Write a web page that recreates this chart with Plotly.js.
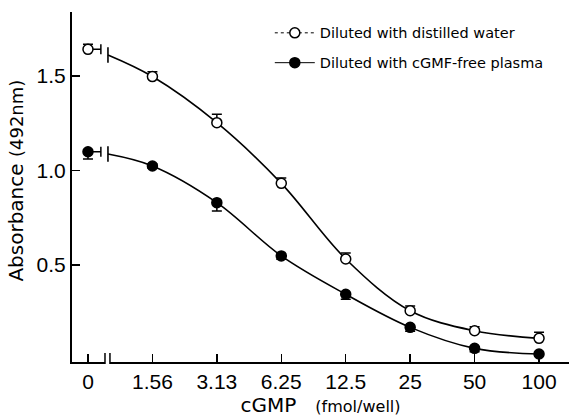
<!DOCTYPE html>
<html><head><meta charset="utf-8">
<script src="https://cdn.plot.ly/plotly-3.0.1.min.js"></script>
<style>html,body{margin:0;padding:0;background:#fff}#chart{width:569px;height:417px}</style>
</head><body><div id="chart"></div>
<script>
// categories on the (ordinal) x axis
const categories = ['0', '1.56', '3.13', '6.25', '12.5', '25', '50', '100'];
const xIndex = [0, 1, 2, 3, 4, 5, 6, 7];
// Diluted with distilled water (open circles)
const waterY = [1.641, 1.497, 1.253, 0.932, 0.532, 0.258, 0.152, 0.112];
const waterErrUp = [0.027, 0.025, 0.045, 0.028, 0.032, 0.025, 0.021, 0.032];
const waterErrDown = [0, 0, 0, 0, 0, 0, 0, 0];
// Diluted with cGMP-free plasma (filled circles)
const plasmaY = [1.099, 1.024, 0.830, 0.548, 0.345, 0.170, 0.059, 0.029];
const plasmaErrUp = [0, 0.010, 0, 0, 0, 0, 0, 0];
const plasmaErrDown = [0.038, 0.012, 0.044, 0.018, 0.026, 0.020, 0.018, 0.010];
// horizontal error bar on the zero-dose point
const zeroXErr = [0.2, 0, 0, 0, 0, 0, 0, 0];
// fitted curves start just after the axis break
const curveStartX = 0.31;
const waterCurveStart = 1.611;
const plasmaCurveStart = 1.087;
// y tick values
const yTicks = [0.5, 1.0, 1.5];
// axis break position (index units)
const breakX = [0.264, 0.341];

const blk = '#000';
const curveX = [curveStartX].concat(xIndex.slice(1));

function pointsTrace(y, up, down, open) {
  return {
    x: xIndex, y: y, type: 'scatter', mode: 'markers', showlegend: false,
    marker: {symbol: 'circle', size: 10, color: open ? '#fff' : blk, line: {color: blk, width: 1.5}},
    error_y: {type: 'data', symmetric: false, array: up, arrayminus: down, color: blk, thickness: 1.5, width: 5},
    error_x: {type: 'data', symmetric: false, array: zeroXErr, arrayminus: xIndex.map(() => 0), color: blk, thickness: 1.5, width: 5},
    hoverinfo: 'skip'
  };
}
function curveTrace(start, y) {
  return {
    x: curveX, y: [start].concat(y.slice(1)), type: 'scatter', mode: 'lines', showlegend: false,
    line: {color: blk, width: 1.6, shape: 'spline', smoothing: 1}, hoverinfo: 'skip'
  };
}
function startTick(start) {
  return {
    x: [curveStartX], y: [start], type: 'scatter', mode: 'markers', showlegend: false,
    marker: {symbol: 'line-ns', size: 11, line: {color: blk, width: 1.6}}, hoverinfo: 'skip'
  };
}
function legendTrace(name, open, dash, grp) {
  return {
    x: [null], y: [null], type: 'scatter', mode: 'lines+markers', name: name, legendgroup: grp,
    line: {color: blk, width: 1, dash: dash},
    marker: {symbol: 'circle', size: 10, color: open ? '#fff' : blk, line: {color: blk, width: 1.5}}
  };
}

const data = [
  curveTrace(waterCurveStart, waterY),
  curveTrace(plasmaCurveStart, plasmaY),
  startTick(waterCurveStart),
  startTick(plasmaCurveStart),
  pointsTrace(waterY, waterErrUp, waterErrDown, true),
  pointsTrace(plasmaY, plasmaErrUp, plasmaErrDown, false),
  legendTrace('Diluted with distilled water', true, 'dot', 'a'),
  legendTrace('Diluted with cGMF-free plasma', false, 'solid', 'b')
];

const layout = {
  width: 569, height: 417,
  margin: {l: 72, r: 0, t: 12, b: 55},
  paper_bgcolor: '#fff', plot_bgcolor: '#fff',
  font: {family: 'DejaVu Sans', color: blk},
  showlegend: true,
  legend: {x: 0.398, y: 0.986, xanchor: 'left', yanchor: 'top',
           font: {family: 'DejaVu Sans', size: 14.5, color: blk},
           bgcolor: 'rgba(0,0,0,0)', tracegroupgap: 8, itemwidth: 40},
  xaxis: {
    range: [-0.248, 7.465], tickmode: 'array', tickvals: xIndex, ticktext: categories,
    showgrid: false, zeroline: false, showline: true, linecolor: blk, linewidth: 2,
    ticks: 'inside', ticklen: 8, tickwidth: 1.5, tickcolor: blk,
    tickfont: {family: 'Liberation Sans', size: 21, color: blk},
    title: {text: 'cGMP&nbsp;&nbsp; <span style="font-size:16px">(fmol/well)</span>',
            font: {family: 'DejaVu Sans', size: 20, color: blk}, standoff: 6}
  },
  yaxis: {
    range: [-0.0132, 1.8386], tickmode: 'array', tickvals: yTicks, tickformat: '.1f',
    showgrid: false, zeroline: false, showline: true, linecolor: blk, linewidth: 2,
    ticks: 'inside', ticklen: 8, tickwidth: 1.5, tickcolor: blk,
    tickfont: {family: 'Liberation Sans', size: 21, color: blk},
    title: {text: '&nbsp;&nbsp;Absorbance <span style="font-size:18px">(492nm)</span>',
            font: {family: 'DejaVu Sans', size: 20, color: blk}, standoff: 8}
  },
  shapes: [
    {type: 'rect', xref: 'x', yref: 'paper', x0: breakX[0], x1: breakX[1], y0: -0.02, y1: 0.015,
     fillcolor: '#fff', line: {width: 0}, layer: 'above'},
    {type: 'line', xref: 'x', yref: 'paper', x0: breakX[0], x1: breakX[0], y0: -0.006, y1: 0.026,
     line: {color: blk, width: 1.5}, layer: 'above'},
    {type: 'line', xref: 'x', yref: 'paper', x0: breakX[1], x1: breakX[1], y0: -0.006, y1: 0.026,
     line: {color: blk, width: 1.5}, layer: 'above'}
  ]
};

Plotly.newPlot('chart', data, layout, {displayModeBar: false, staticPlot: true});
</script>
</body></html>
